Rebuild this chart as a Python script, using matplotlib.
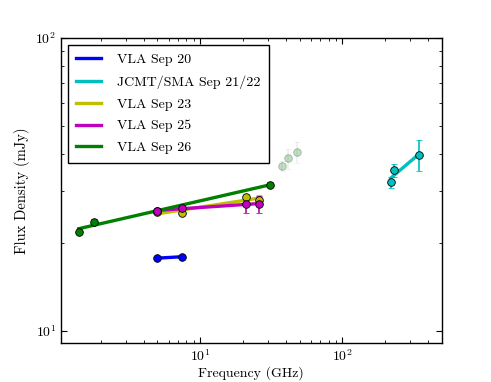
import numpy as np
import matplotlib
matplotlib.use("Agg")
import matplotlib.pyplot as plt

plt.rcParams['font.family'] = 'serif'
plt.rcParams['font.serif'] = ['cmr10']
plt.rcParams['mathtext.fontset'] = 'cm'
plt.rcParams['axes.unicode_minus'] = False
plt.rcParams['axes.formatter.use_mathtext'] = True

# data (GHz, mJy)
freq_sep20 = [5.0, 7.5]
flux_sep20 = [17.7, 17.9]
err_sep20 = [0.2, 0.2]

freq_sma = [219.0, 231.0, 345.0]
flux_sma = [32.1, 35.3, 39.9]
err_sma = [1.3, 1.7, 4.8]

freq_sep23 = [5.0, 7.5, 21.0, 26.0]
flux_sep23 = [25.5, 25.2, 28.6, 28.0]
err_sep23 = [0.3, 0.4, 0.8, 1.1]

freq_sep25 = [5.0, 7.5, 21.0, 26.0]
flux_sep25 = [25.7, 26.2, 27.1, 27.1]
err_sep25 = [0.3, 0.4, 1.8, 1.8]

freq_sep26 = [1.4, 1.8, 5.0, 31.0]
flux_sep26 = [21.8, 23.6, 25.6, 31.5]
err_sep26 = [0.4, 0.4, 0.3, 0.6]

# faint points
freq_faint = [37.4, 41.6, 47.7]
flux_faint = [36.5, 38.8, 40.9]
err_faint = [1.5, 3.0, 3.4]

series = [
    ("VLA Sep 20", freq_sep20, flux_sep20, err_sep20, 'b'),
    ("JCMT/SMA Sep 21/22", freq_sma, flux_sma, err_sma, 'c'),
    ("VLA Sep 23", freq_sep23, flux_sep23, err_sep23, 'y'),
    ("VLA Sep 25", freq_sep25, flux_sep25, err_sep25, 'm'),
    ("VLA Sep 26", freq_sep26, flux_sep26, err_sep26, 'g'),
]


def powerlaw_fit(f, s):
    lf = np.log10(f)
    p = np.polyfit(lf, np.log10(s), 1)
    xx = np.array([lf.min(), lf.max()])
    return 10**xx, 10**np.polyval(p, xx)


fig = plt.figure(figsize=(4.91, 3.82), dpi=100)
ax = fig.add_axes([0.1242, 0.1021, 0.7754, 0.7984])

# fitted lines
for label, f, s, e, c in series:
    xf, yf = powerlaw_fit(f, s)
    ax.plot(xf, yf, '-', color=c, lw=2.4, label=label, zorder=2)

# points
point_order = [4, 0, 1, 2, 3]
for i in point_order:
    label, f, s, e, c = series[i]
    ax.errorbar(f, s, yerr=e, fmt='o', color=c, ms=5.5, mec='k', mew=0.6,
                ecolor=c, elinewidth=1.2, capsize=2.5, capthick=1.2, zorder=3)

ax.errorbar(freq_faint, flux_faint, yerr=err_faint, fmt='o', color='g', ms=5.5,
            mec='k', mew=0.6, ecolor='0.75', elinewidth=1.2, capsize=2.5,
            capthick=1.2, alpha=0.25, zorder=3)

ax.set_xscale('log')
ax.set_yscale('log')
ax.set_xlim(1.05, 500)
ax.set_ylim(9.08, 100)
ax.tick_params(which='both', direction='in', top=True, right=True, labelsize=10)
ax.tick_params(which='major', length=4)
ax.tick_params(which='minor', length=2)
for sp in ax.spines.values():
    sp.set_linewidth(1.0)

ax.set_xlabel('Frequency (GHz)', fontsize=10, labelpad=2)
ax.set_ylabel('Flux Density (mJy)', fontsize=10.5, labelpad=4)

leg = ax.legend(loc='upper left', fontsize=10, fancybox=False, framealpha=1,
                edgecolor='k', handlelength=1.75, borderpad=0.6,
                labelspacing=0.66, handletextpad=1.2,
                bbox_to_anchor=(0.0, 1.0), borderaxespad=0.5)
leg.get_frame().set_linewidth(1.0)

fig.savefig('out.png', dpi=100)
